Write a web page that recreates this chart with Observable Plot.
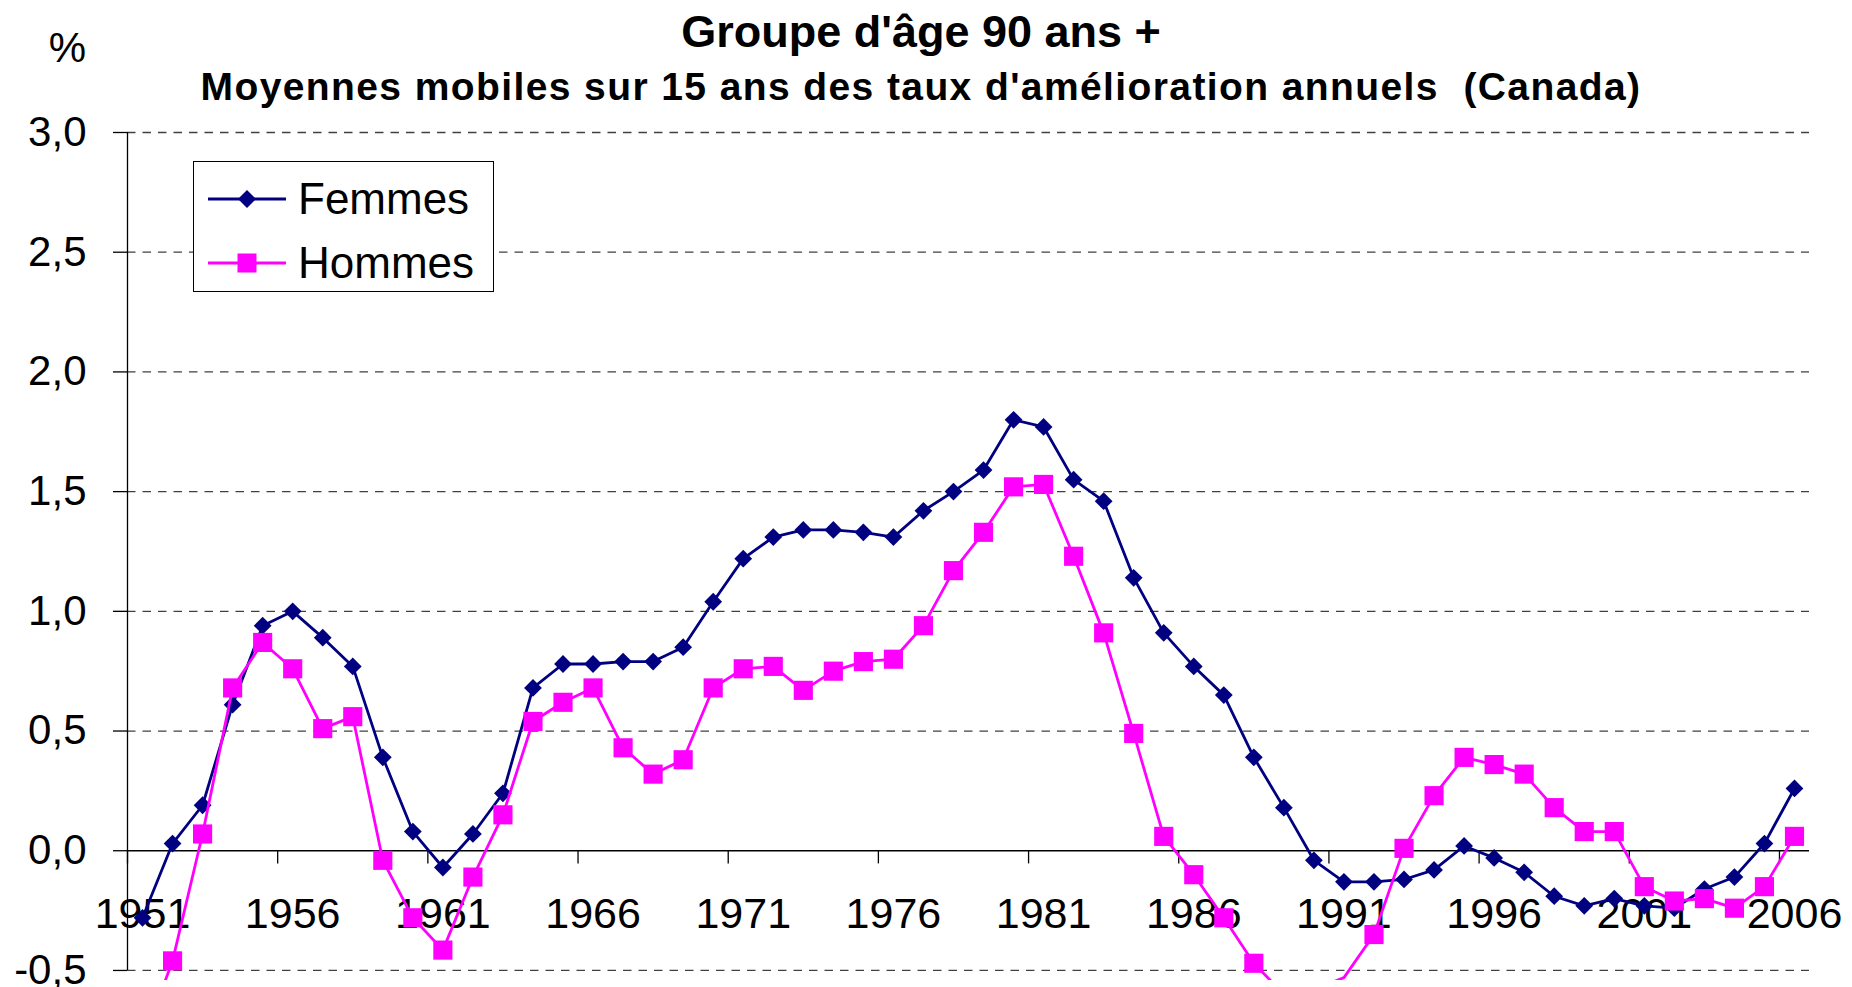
<!DOCTYPE html>
<html><head><meta charset="utf-8">
<script src="https://cdn.jsdelivr.net/npm/d3@7"></script>
<script src="https://cdn.jsdelivr.net/npm/@observablehq/plot@0.6"></script>
<style>
html,body{margin:0;padding:0;background:#fff;overflow:hidden;}
#page{position:relative;width:1852px;height:987px;font-family:"Liberation Sans",Arial,sans-serif;color:#000;}
#header{position:relative;height:110px;}
.hdr{position:absolute;left:0;width:1842px;text-align:center;font-weight:bold;white-space:nowrap;}
#title{top:9px;font-size:45px;line-height:45px;}
#subtitle{top:67px;font-size:39px;line-height:39px;letter-spacing:1.4px;}
#unit{position:absolute;left:0;top:27px;width:86px;text-align:right;font-size:42px;line-height:41px;}
#chart svg{display:block;overflow:visible;}
#legend{position:absolute;left:193px;top:161px;width:301px;height:131px;box-sizing:border-box;border:1.5px solid #000;background:#fff;}
.lrow{position:absolute;left:0;height:40px;width:100%;}
.lrow svg{position:absolute;left:14px;top:0;}
.lrow span{position:absolute;left:104px;top:0;font-size:44px;line-height:40px;white-space:nowrap;}
</style>
</head>
<body>
<div id="page">
  <div id="header">
    <div id="unit">%</div>
    <div id="title" class="hdr">Groupe d'âge 90 ans +</div>
    <div id="subtitle" class="hdr">Moyennes mobiles sur 15 ans des taux d'amélioration annuels&nbsp; (Canada)</div>
  </div>
  <div id="chart"></div>
  <div id="legend"></div>
</div>
<script>
const years = [1951,1952,1953,1954,1955,1956,1957,1958,1959,1960,1961,1962,1963,1964,1965,1966,1967,1968,1969,1970,
  1971,1972,1973,1974,1975,1976,1977,1978,1979,1980,1981,1982,1983,1984,1985,1986,1987,1988,1989,1990,
  1991,1992,1993,1994,1995,1996,1997,1998,1999,2000,2001,2002,2003,2004,2005,2006];
const femmes = [-0.28,0.03,0.19,0.61,0.94,1.00,0.89,0.77,0.39,0.08,-0.07,0.07,0.24,0.68,0.78,0.78,0.79,0.79,0.85,1.04,
  1.22,1.31,1.34,1.34,1.33,1.31,1.42,1.50,1.59,1.80,1.77,1.55,1.46,1.14,0.91,0.77,0.65,0.39,0.18,-0.04,
  -0.13,-0.13,-0.12,-0.08,0.02,-0.03,-0.09,-0.19,-0.23,-0.20,-0.23,-0.24,-0.16,-0.11,0.03,0.26];
const hommes = [-0.80,-0.46,0.07,0.68,0.87,0.76,0.51,0.56,-0.04,-0.28,-0.415,-0.11,0.15,0.54,0.62,0.68,0.43,0.32,0.38,0.68,
  0.76,0.77,0.67,0.75,0.79,0.80,0.94,1.17,1.33,1.52,1.53,1.23,0.91,0.49,0.06,-0.10,-0.28,-0.47,-0.60,-0.58,
  -0.53,-0.35,0.01,0.23,0.39,0.36,0.32,0.18,0.08,0.08,-0.15,-0.21,-0.20,-0.24,-0.15,0.06];
const yTicks = [3.0,2.5,2.0,1.5,1.0,0.5,0.0,-0.5];
const xLabels = [1951,1956,1961,1966,1971,1976,1981,1986,1991,1996,2001,2006];
const xTickMarks = [1950.5,1955.5,1960.5,1965.5,1970.5,1975.5,1980.5,1985.5,1990.5,1995.5,2000.5,2005.5];
const seriesNames = ["Femmes","Hommes"];
const colors = {Femmes:"#000080", Hommes:"#FF00FF"};

const rowsF = years.map((y,i)=>({year:y, v:femmes[i]}));
const rowsH = years.map((y,i)=>({year:y, v:hommes[i]}));
const fmt = d => d.toFixed(1).replace(".", ",");
const yMin = -0.5, yMax = 3.0;

const chart = Plot.plot({
  width: 1852, height: 877,
  marginTop: 22, marginLeft: 127, marginRight: 43, marginBottom: 7,
  x: {domain: [1950.5, 2006.5], axis: null},
  y: {domain: [-0.542, 3.0]},
  style: {fontFamily: "'Liberation Sans', Arial, sans-serif", fontSize: "42px", background: "white", color: "#000", overflow: "visible"},
  marks: [
    Plot.ruleY(yTicks.filter(d => d !== 0), {stroke: "#404040", strokeWidth: 1.3, strokeDasharray: "8.5,7"}),
    Plot.axisY(yTicks, {tickSize: 14, tickPadding: 27, tickFormat: fmt, fontSize: 42, label: null, stroke: "#000", strokeWidth: 1.3}),
    Plot.ruleX([1950.5], {y1: yMin, y2: yMax, stroke: "#000", strokeWidth: 1.3}),
    Plot.ruleY([0], {stroke: "#000", strokeWidth: 1.5}),
    Plot.ruleX(xTickMarks, {y1: 0, y2: -0.055, stroke: "#000", strokeWidth: 1.3}),
    Plot.text(xLabels, {x: d => d, y: 0, dy: 63, text: d => String(d), fontSize: 43}),
    Plot.line(rowsF, {x: "year", y: "v", stroke: colors.Femmes, strokeWidth: 2.8, clip: true}),
    Plot.dot(rowsF.filter(d => d.v >= yMin), {x: "year", y: "v", symbol: "diamond2", r: 8, fill: colors.Femmes, stroke: "none"}),
    Plot.line(rowsH, {x: "year", y: "v", stroke: colors.Hommes, strokeWidth: 2.8, clip: true}),
    Plot.dot(rowsH.filter(d => d.v >= yMin), {x: "year", y: "v", symbol: "square", r: 10.8, fill: colors.Hommes, stroke: "none"})
  ]
});
document.getElementById("chart").appendChild(chart);

// Legend (inside plot area, as in the original)
const legend = document.getElementById("legend");
seriesNames.forEach((name, i) => {
  const row = document.createElement("div");
  row.className = "lrow";
  row.style.top = (i === 0 ? 17 : 81) + "px";
  const c = colors[name];
  const marker = name === "Femmes"
    ? `<path d="M39,11 L48,20 L39,29 L30,20 Z" fill="${c}"/>`
    : `<rect x="29.5" y="10.5" width="19" height="19" fill="${c}"/>`;
  row.innerHTML = `<svg width="80" height="40"><line x1="0" x2="78" y1="20" y2="20" stroke="${c}" stroke-width="2.8"/>${marker}</svg><span>${name}</span>`;
  legend.appendChild(row);
});
</script>
</body></html>
